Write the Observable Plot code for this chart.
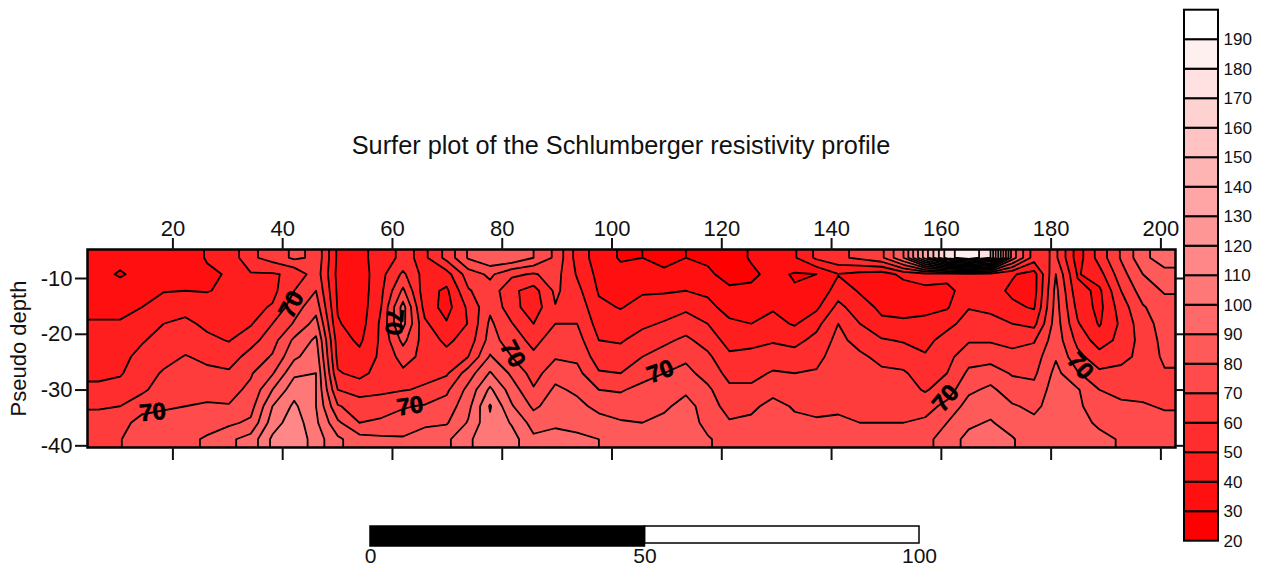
<!DOCTYPE html>
<html>
<head>
<meta charset="utf-8">
<script src="https://cdn.jsdelivr.net/npm/d3@7"></script>
<script src="https://cdn.jsdelivr.net/npm/@observablehq/plot@0.6"></script>
<style>
html,body{margin:0;padding:0;background:#fff}
#wrap{position:relative;width:1269px;height:571px;overflow:hidden;font-family:"Liberation Sans",Arial,sans-serif}
#wrap svg{position:absolute;left:0;top:0;background:transparent}
#title{position:absolute;left:0;width:1242px;top:130px;text-align:center;font-size:25.3px;color:#111;line-height:30px}
</style>
</head>
<body>
<div id="wrap"><div id="title"></div></div>
<script>
const titleText = "Surfer plot of the Schlumberger resistivity profile";
const xTicks = [20,40,60,80,100,120,140,160,180,200];
const yTicks = [-10,-20,-30,-40];
const xExtent = [4.44,202.66];
const depthExtent = [-4.8,-40.3];
const levels = [20,30,40,50,60,70,80,90,100,110,120,130,140,150,160,170,180,190];
const legendLabels = levels;
const scaleTicks = [0,50,100];
// resistivity: one list per x position, top to bottom
const resistivity = [
[33,33,34,37,41,43,45,48,52,59,64,69],
[33,29,34,37,41,44,47,49,54,60,66,69.5],
[33,33,35,40,44,49,53,56,58,66,74,76],
[34,36,39.5,45,50,54,57,61,65,69,73,76],
[34,37,40,47,52,56,60.5,63,66,70,74,78],
[41,38,39.5,45,48,52,58,62,67,71,77,81],
[43,41,42,44.5,47,49.5,55,61.5,67,70.5,78,88],
[58,49,46,47,49,56,64,69,72,76,82,94],
[64,49,47,51,60,66,71,79,90,100,105,112],
[72,52,60,66,71,82,88,98,106,112,116,118],
[68,66,70,76,84,92,96,100,100,100,102,105],
[38,37,38,39,41,45,47,51,60,71,82,92],
[36,34,34,34,35,38,43,47,56,65,70,84],
[46,47,48,50,52,52,52,54,58,65,72,82],
[52,62,72,84,83,73,64,58,59.5,69,75,81],
[48,46,44,46,52,55,57,58,61,71,78,85],
[63,46,38,36,41,48,53,58.5,68,74,79,88],
[81,65,59,52,50.5,54,60,75,83,87,91,98],
[88,72,66,68,72,74,81,91,102,111,108,108],
[88,62,52,54,60.5,65,70,78,85,91,99,104],
[80,59,46,44,50,57,62,66,71,78,86,92],
[68,64,62,59.5,60,65,69,76,82,85,89,92],
[46,49,53,57,60,64,68,73,78,83,87,92],
[35,37,39,42,46,50,55,61,70,77,84,90],
[29,33,37,39.5,44,49,54,60,69,75,81,85],
[30,34,39,43,48,54,60,66,73,77,80,86],
[27,32,39,45,51,58,64,70,75,78,83,87],
[30,35,40,48,55,62,68,73,78,84,85,85],
[28,32,38,43,50,56,62,66,72,75,77,81],
[25,26,32,36,42,46,52,57,62,66,71,76],
[31,28,32,36,40,47,53,57,62,68,72,76],
[32,33,36,39,43,49,55,61,67,73,75,77],
[39,29,31,35,39,47,54,60,65,69,72,75],
[52,30,32,38,47,53,57,61,65,68,71,74],
[58,39.5,45,53,60,63,65,67,68,69,71,73],
[62,37,39,44,50,56,62,64,66,68,70,72],
[68,35,35,38,42,51,57,62,65,67,70,73],
[90,43,34,36,42,49,56,61,64,67,70,74],
[135,46,37,37,43,47,51,56,59,66,72,77],
[175,45,36,39,47,54,57,60,65,73,80,85],
[189,47,47,49.5,54,59,66,72,78,84,88,93],
[170,45,44,48,53,59,66,75,82,86,91,94],
[85,41,38,42,50,56,64,69,75,81,85,91],
[55,36,36,39,47,59,65,68,73,78,82,83],
[62,70,73,74,75,76,79,83,85,84,82,83],
[35,39,43,47,51,57,63,71,81,82,84,86],
[54,46,38,37,39,45,54,62,70,74,78,83],
[71,66,60,55,52,53,57,63,67,72,75,79],
[87,80,75,69,66,64,63,64,67,71,75,79],
[96,86,81,76,74,73,72,69,66,69,73,74]
];
const labelText = ["70","70","70","70","70","70","70","70"];
const labelX = [16.3,41.6,60.3,63.2,81.9,108.8,160.8,185.3];
const labelDepth = [-34.0,-14.7,-17.8,-32.9,-23.5,-26.7,-31.5,-25.7];
const labelAngle = [-5,-62,95,-8,62,-20,-50,50];

// The grid is carried one repeated sample past each edge and clipped to the frame,
// so the contour polygons reach the corners of the plot.
const nCols = resistivity.length, nRows = resistivity[0].length;
const dx = (xExtent[1]-xExtent[0])/nCols, dy = (depthExtent[1]-depthExtent[0])/nRows;
const pad = 2;
const grid = [];
for (let r = -pad; r < nRows+pad; r++) for (let c = -pad; c < nCols+pad; c++)
  grid.push(resistivity[Math.max(0,Math.min(nCols-1,c))][Math.max(0,Math.min(nRows-1,r))]);
const bandColors = levels.map((d,i) => d3.interpolateRgb("#ff0000","#ffffff")(i/(levels.length-1)));
const font = '"Liberation Sans",Arial,sans-serif';
const W = 1269, H = 571;

const labels = labelText.map((t,i) => ({t, x:labelX[i], y:labelDepth[i], a:labelAngle[i]}));

const main = Plot.plot({
  width:W, height:H, marginLeft:87, marginRight:94, marginTop:249, marginBottom:124,
  style:{fontFamily:font, background:"transparent", color:"#111"},
  x:{domain:xExtent},
  y:{domain:[depthExtent[1],depthExtent[0]]},
  color:{type:"threshold", domain:levels.slice(1), range:bandColors},
  marks:[
    Plot.contour(grid,{x1:xExtent[0]-pad*dx,x2:xExtent[1]+pad*dx,y1:depthExtent[0]-pad*dy,y2:depthExtent[1]+pad*dy,
      width:nCols+2*pad,height:nRows+2*pad,fill:Plot.identity,thresholds:levels,stroke:"black",strokeWidth:1.8,strokeLinejoin:"round",clip:"frame"}),
    ...labels.map(l => Plot.text([l],{x:"x",y:"y",text:"t",rotate:l.a,fontSize:24,fontWeight:"bold",fill:"#000",stroke:"#000",strokeWidth:0.6})),
    Plot.frame({stroke:"black",strokeWidth:2.5}),
    Plot.axisX({anchor:"top",ticks:xTicks,tickSize:12,tickPadding:2,fontSize:22,label:null,strokeWidth:2,tickFormat:d=>String(d)}),
    Plot.axisX({anchor:"bottom",ticks:xTicks,tickSize:13,label:null,strokeWidth:2,tickFormat:()=>""}),
    Plot.axisY({anchor:"left",ticks:yTicks,tickSize:12,tickPadding:3,fontSize:22,label:null,strokeWidth:2,tickFormat:d=>String(d)}),
    Plot.axisY({anchor:"right",ticks:yTicks,tickSize:10,label:null,strokeWidth:2,tickFormat:()=>""}),
    Plot.text(["Pseudo depth"],{frameAnchor:"left",dx:-69,rotate:-90,textAnchor:"middle",fontSize:22,fill:"#111"})
  ]
});

const bands = levels.map((d,i) => ({lo:d, hi:d+10, c:bandColors[i]}));
const legend = Plot.plot({
  width:W, height:H, marginLeft:1184, marginRight:51, marginTop:9.7, marginBottom:30.3,
  style:{fontFamily:font, background:"transparent", color:"#111"},
  x:{domain:[0,1],axis:null},
  y:{domain:[20,200]},
  marks:[
    Plot.rect(bands,{x1:0,x2:1,y1:"lo",y2:"hi",fill:"c",stroke:"black",strokeWidth:2}),
    Plot.axisY({anchor:"right",ticks:legendLabels,tickSize:0,tickPadding:5,fontSize:17,label:null,tickFormat:d=>String(d)})
  ]
});

const scaleSegments = [{a:50,b:100,top:0,bottom:17,fill:"white"},{a:0,b:50,top:0,bottom:20,fill:"black"}];
const scalebar = Plot.plot({
  width:W, height:H, marginLeft:370, marginRight:350, marginTop:526, marginBottom:25,
  style:{fontFamily:font, background:"transparent", color:"#111"},
  x:{domain:[0,100]},
  y:{domain:[0,20],reverse:true,axis:null},
  marks:[
    Plot.rect(scaleSegments,{x1:"a",x2:"b",y1:"top",y2:"bottom",fill:"fill",stroke:"black",strokeWidth:1.5}),
    Plot.axisX({anchor:"bottom",ticks:scaleTicks,tickSize:0,tickPadding:2,fontSize:21,label:null,tickFormat:d=>String(d)})
  ]
});

const wrap = document.getElementById("wrap");
wrap.append(main, legend, scalebar);
document.getElementById("title").textContent = titleText;
</script>
</body>
</html>
